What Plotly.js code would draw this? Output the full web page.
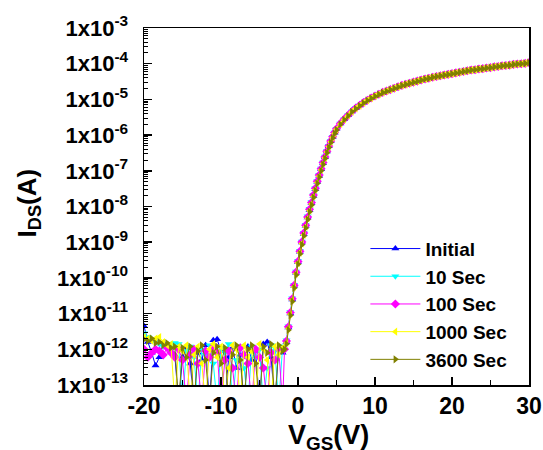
<!DOCTYPE html>
<html>
<head>
<meta charset="utf-8">
<script src="https://cdn.plot.ly/plotly-3.0.1.min.js"></script>
<style>html,body{margin:0;padding:0;background:#fff;}#chart{width:543px;height:450px;}</style>
</head>
<body>
<div id="chart"></div>
<script>
// Gate voltage (V)
var vgs = [-20,-19.5,-19,-18.5,-18,-17.5,-17,-16.5,-16,-15.5,-15,-14.5,-14,-13.5,-13,-12.5,-12,-11.5,-11,-10.5,-10,-9.5,-9,-8.5,-8,-7.5,-7,-6.5,-6,-5.5,-5,-4.5,-4,-3.5,-3,-2.5,-2,
  -1.75,-1.5,-1.25,-1,-0.75,-0.5,-0.25,0,0.25,0.5,0.75,1,1.25,1.5,1.75,2,2.25,2.5,2.75,3,3.25,3.5,3.75,4,4.25,4.5,4.75,5,
  5.5,6,6.5,7,7.5,8,8.5,9,9.5,10,10.5,11,11.5,12,12.5,13,13.5,14,14.5,15,15.5,16,16.5,17,17.5,18,18.5,19,19.5,20,20.5,21,21.5,22,22.5,23,23.5,24,24.5,25,25.5,26,26.5,27,27.5,28,28.5,29,29.5,30];

// Drain current (A) per stress time
var idsInitial = [4.5e-12,1.6e-12,8e-13,3.5e-13,6e-13,1.5e-12,1.2e-12,9e-13,7e-13,3e-14,6e-13,1.1e-12,4e-13,3e-14,8e-13,5e-13,1.3e-12,3e-14,1.8e-12,1.9e-12,9e-13,3e-14,6e-13,1.1e-12,3e-13,7e-13,3e-14,1.2e-12,5e-13,9e-13,3e-14,1.4e-12,1.6e-12,6e-13,3e-14,1.1e-12,8e-13,
  1.1e-12,1.6e-12,4.1e-12,1.0e-11,2.5e-11,6.0e-11,1.4e-10,2.8e-10,5.4e-10,9.8e-10,1.7e-9,2.9e-9,4.9e-9,8.0e-9,1.25e-8,2.0e-8,3.1e-8,4.9e-8,7.3e-8,1.1e-7,1.65e-7,2.4e-7,3.5e-7,4.9e-7,6.7e-7,8.9e-7,1.17e-6,1.5e-6,
  2.1e-6,2.8e-6,3.6e-6,4.6e-6,5.7e-6,6.8e-6,8.1e-6,9.5e-6,1.09e-5,1.25e-5,1.40e-5,1.57e-5,1.72e-5,1.88e-5,2.06e-5,2.26e-5,2.47e-5,2.65e-5,2.84e-5,3.04e-5,3.26e-5,3.49e-5,3.74e-5,3.91e-5,4.19e-5,4.39e-5,4.59e-5,4.81e-5,5.03e-5,5.27e-5,5.52e-5,5.77e-5,6.05e-5,6.33e-5,6.63e-5,6.78e-5,7.10e-5,7.26e-5,7.61e-5,7.78e-5,8.15e-5,8.34e-5,8.73e-5,8.93e-5,9.14e-5,9.57e-5,9.79e-5,1.00e-4,1.02e-4,1.07e-4];

var ids10s = [2.8e-12,2.2e-12,1.9e-12,1.6e-12,1.4e-12,1.2e-12,1.1e-12,1.3e-12,1.5e-12,1.4e-12,3e-14,9e-13,1.2e-12,6e-13,3e-14,1.0e-12,7e-13,1.3e-12,4e-13,3e-14,1.1e-12,8e-13,1.4e-12,3e-14,5e-13,1.0e-12,3e-13,3e-14,1.2e-12,6e-13,1.0e-12,3e-14,3e-13,1.3e-12,9e-13,3e-14,1.2e-12,
  1.2e-12,1.8e-12,4.4e-12,1.1e-11,2.7e-11,6.4e-11,1.5e-10,3.0e-10,5.8e-10,1.05e-9,1.85e-9,3.1e-9,5.3e-9,8.6e-9,1.33e-8,2.15e-8,3.3e-8,5.2e-8,7.7e-8,1.16e-7,1.72e-7,2.5e-7,3.6e-7,5.0e-7,6.8e-7,9.0e-7,1.18e-6,1.5e-6,
  2.1e-6,2.8e-6,3.6e-6,4.6e-6,5.7e-6,6.8e-6,8.1e-6,9.5e-6,1.09e-5,1.25e-5,1.40e-5,1.57e-5,1.72e-5,1.88e-5,2.06e-5,2.26e-5,2.47e-5,2.65e-5,2.84e-5,3.04e-5,3.26e-5,3.49e-5,3.74e-5,3.91e-5,4.19e-5,4.39e-5,4.59e-5,4.81e-5,5.03e-5,5.27e-5,5.52e-5,5.77e-5,6.05e-5,6.33e-5,6.63e-5,6.78e-5,7.10e-5,7.26e-5,7.61e-5,7.78e-5,8.15e-5,8.34e-5,8.73e-5,8.93e-5,9.14e-5,9.57e-5,9.79e-5,1.00e-4,1.02e-4,1.07e-4];

var ids100s = [1.0e-12,6e-13,8e-13,1.0e-12,9e-13,7e-13,1.1e-12,8e-13,6e-13,1.0e-12,5e-13,3e-14,7e-13,1.0e-12,4e-13,3e-14,9e-13,6e-13,1.2e-12,8e-13,3e-14,5e-13,9e-13,3e-13,3e-14,1.1e-12,7e-13,4e-13,3e-14,1.0e-12,6e-13,3e-13,3e-14,8e-13,5e-13,1.0e-12,3e-14,
  1.0e-12,1.7e-12,4.3e-12,1.07e-11,2.6e-11,6.2e-11,1.45e-10,2.9e-10,5.6e-10,1.02e-9,1.8e-9,3.0e-9,5.1e-9,8.4e-9,1.3e-8,2.1e-8,3.25e-8,5.1e-8,7.6e-8,1.14e-7,1.7e-7,2.45e-7,3.55e-7,4.95e-7,6.8e-7,9.0e-7,1.18e-6,1.5e-6,
  2.1e-6,2.8e-6,3.6e-6,4.6e-6,5.7e-6,6.8e-6,8.1e-6,9.5e-6,1.09e-5,1.25e-5,1.40e-5,1.57e-5,1.72e-5,1.88e-5,2.06e-5,2.26e-5,2.47e-5,2.65e-5,2.84e-5,3.04e-5,3.26e-5,3.49e-5,3.74e-5,3.91e-5,4.19e-5,4.39e-5,4.59e-5,4.81e-5,5.03e-5,5.27e-5,5.52e-5,5.77e-5,6.05e-5,6.33e-5,6.63e-5,6.78e-5,7.10e-5,7.26e-5,7.61e-5,7.78e-5,8.15e-5,8.34e-5,8.73e-5,8.93e-5,9.14e-5,9.57e-5,9.79e-5,1.00e-4,1.02e-4,1.07e-4];

var ids1000s = [2.2e-12,2.0e-12,1.7e-12,2.0e-12,2.2e-12,1.6e-12,1.3e-12,1.4e-12,3e-14,1.2e-12,9e-13,1.3e-12,3e-14,7e-13,1.2e-12,4e-13,3e-14,1.0e-12,1.4e-12,6e-13,1.2e-12,3e-14,3e-13,1.3e-12,1.0e-12,3e-14,1.3e-12,6e-13,9e-13,3e-14,1.4e-12,1.0e-12,5e-13,3e-14,1.2e-12,7e-13,1.1e-12,
  1.1e-12,1.5e-12,3.8e-12,9.6e-12,2.4e-11,5.6e-11,1.3e-10,2.6e-10,5.1e-10,9.2e-10,1.6e-9,2.7e-9,4.6e-9,7.6e-9,1.18e-8,1.9e-8,2.95e-8,4.7e-8,7.0e-8,1.06e-7,1.58e-7,2.3e-7,3.35e-7,4.7e-7,6.45e-7,8.6e-7,1.13e-6,1.45e-6,
  2.05e-6,2.75e-6,3.55e-6,4.55e-6,5.6e-6,6.7e-6,8.0e-6,9.4e-6,1.08e-5,1.24e-5,1.39e-5,1.56e-5,1.71e-5,1.87e-5,2.05e-5,2.25e-5,2.46e-5,2.64e-5,2.83e-5,3.03e-5,3.25e-5,3.48e-5,3.73e-5,3.90e-5,4.18e-5,4.38e-5,4.58e-5,4.80e-5,5.02e-5,5.26e-5,5.51e-5,5.76e-5,6.04e-5,6.32e-5,6.62e-5,6.77e-5,7.09e-5,7.25e-5,7.60e-5,7.77e-5,8.14e-5,8.33e-5,8.72e-5,8.92e-5,9.13e-5,9.56e-5,9.78e-5,1.00e-4,1.02e-4,1.07e-4];

var ids3600s = [1.9e-12,1.7e-12,2.0e-12,1.5e-12,1.6e-12,1.3e-12,1.5e-12,1.1e-12,1.2e-12,3e-14,1.1e-12,6e-13,1.2e-12,3e-14,9e-13,1.3e-12,5e-13,3e-14,8e-13,1.2e-12,4e-13,1.1e-12,3e-14,7e-13,1.3e-12,5e-13,3e-14,1.0e-12,1.3e-12,4e-13,3e-14,1.2e-12,8e-13,1.4e-12,3e-14,1.3e-12,9e-13,
  1.0e-12,1.4e-12,3.5e-12,8.9e-12,2.2e-11,5.2e-11,1.2e-10,2.4e-10,4.7e-10,8.5e-10,1.5e-9,2.5e-9,4.3e-9,7.1e-9,1.1e-8,1.8e-8,2.8e-8,4.4e-8,6.6e-8,1.0e-7,1.5e-7,2.2e-7,3.2e-7,4.5e-7,6.2e-7,8.3e-7,1.1e-6,1.4e-6,
  2.0e-6,2.7e-6,3.5e-6,4.5e-6,5.5e-6,6.6e-6,7.9e-6,9.3e-6,1.07e-5,1.23e-5,1.38e-5,1.55e-5,1.70e-5,1.86e-5,2.04e-5,2.24e-5,2.45e-5,2.63e-5,2.82e-5,3.02e-5,3.24e-5,3.47e-5,3.72e-5,3.89e-5,4.17e-5,4.37e-5,4.57e-5,4.79e-5,5.01e-5,5.25e-5,5.50e-5,5.75e-5,6.03e-5,6.31e-5,6.61e-5,6.76e-5,7.08e-5,7.24e-5,7.59e-5,7.76e-5,8.13e-5,8.32e-5,8.71e-5,8.91e-5,9.12e-5,9.55e-5,9.77e-5,1.00e-4,1.02e-4,1.07e-4];

var seriesNames = ['Initial','10 Sec','100 Sec','1000 Sec','3600 Sec'];
var seriesData = [idsInitial, ids10s, ids100s, ids1000s, ids3600s];
var seriesColors = ['#0000FF','#00FFFF','#FF00FF','#FFFF00','#808000'];
var seriesSymbols = ['triangle-up','triangle-down','diamond','triangle-left','triangle-right'];

var yTickVals = [1e-13,1e-12,1e-11,1e-10,1e-9,1e-8,1e-7,1e-6,1e-5,1e-4,1e-3];
var yTickText = ['-13','-12','-11','-10','-9','-8','-7','-6','-5','-4','-3'].map(function(e){return '<b>1x10<sup>'+e+'</sup></b>';});
var xTickVals = [-20,-10,0,10,20,30];
var xTickText = ['-20','-10','0','10','20','30'].map(function(t){return '<b>'+t+'</b>';});
var xTitle = '<b>V<sub>GS</sub>(V)</b>';
var yTitle = '<b>I<sub>DS</sub>(A)</b>';

var font = 'Liberation Sans, Arial, sans-serif';

var traces = seriesNames.map(function(name, i){
  return {
    x: vgs, y: seriesData[i], name: name,
    type: 'scatter', mode: 'lines+markers',
    line: {color: seriesColors[i], width: 1},
    marker: {symbol: seriesSymbols[i], color: seriesColors[i], size: 7, line: {width: 0}},
    cliponaxis: true
  };
});

var layout = {
  width: 543, height: 450,
  margin: {l: 144, r: 14, t: 28, b: 65, pad: 0},
  paper_bgcolor: '#fff', plot_bgcolor: '#fff',
  showlegend: true,
  legend: {
    x: 0.575, y: 0.435, xanchor: 'left', yanchor: 'top',
    bgcolor: 'rgba(0,0,0,0)', borderwidth: 0,
    font: {family: font, size: 19, color: '#000', weight: 'bold'},
    itemwidth: 50, tracegroupgap: 0
  },
  xaxis: {
    range: [-20, 30], tickvals: xTickVals, ticktext: xTickText,
    ticks: 'inside', ticklen: 8, tickwidth: 1.5, tickcolor: '#000',
    minor: {dtick: 5, tick0: 0, ticks: 'inside', ticklen: 5, tickwidth: 1.5, tickcolor: '#000'},
    showline: true, linecolor: '#000', linewidth: 1.5, mirror: true,
    showgrid: false, zeroline: false,
    tickfont: {family: font, size: 23, color: '#000'},
    ticklabelstandoff: 0
  },
  yaxis: {
    type: 'log', range: [-13, -3], tickvals: yTickVals, ticktext: yTickText,
    ticks: 'inside', ticklen: 8, tickwidth: 1.5, tickcolor: '#000',
    minor: {dtick: 'D1', ticks: 'inside', ticklen: 4, tickwidth: 1, tickcolor: '#000'},
    showline: true, linecolor: '#000', linewidth: 1.5, mirror: true,
    showgrid: false, zeroline: false,
    tickfont: {family: font, size: 22, color: '#000'},
    ticklabelstandoff: 10
  },
  annotations: [
    {text: xTitle, xref: 'paper', yref: 'paper', x: 0.371, y: -0.095, xanchor: 'left', yanchor: 'top',
     showarrow: false, font: {family: font, size: 27, color: '#000'}, borderpad: 0},
    {text: yTitle, xref: 'paper', yref: 'paper', x: -0.30, y: 0.51, xanchor: 'center', yanchor: 'middle',
     textangle: -90, showarrow: false, font: {family: font, size: 26, color: '#000'}, borderpad: 0}
  ]
};

Plotly.newPlot('chart', traces, layout, {displayModeBar: false, staticPlot: true});
</script>
</body>
</html>
